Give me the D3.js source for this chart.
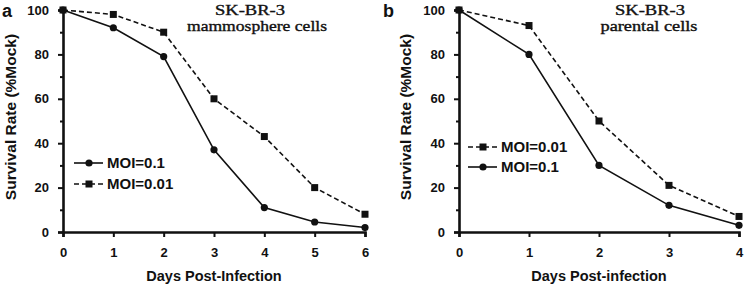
<!DOCTYPE html>
<html lang="en">
<head>
<meta charset="UTF-8">
<title>Survival rate</title>
<script src="https://cdn.jsdelivr.net/npm/d3@7/dist/d3.min.js"></script>
<style>
    body { margin: 0; background: #fff; }
    text { font-family: "Liberation Sans", Arial, sans-serif; font-weight: bold; fill: #111; }
    .ttl { font-family: "Liberation Serif", "Times New Roman", serif; font-weight: normal; stroke: #111; stroke-width: 0.35px; }
</style>
</head>
<body>
<script>
    // panel a: mammosphere cells
    const daysA = [0, 1, 2, 3, 4, 5, 6];
    const moi01A = [100, 92, 79, 37, 11, 4.5, 2];     // MOI=0.1
    const moi001A = [100, 98, 90, 60, 43, 20, 8];     // MOI=0.01

    // panel b: parental cells
    const daysB = [0, 1, 2, 3, 4];
    const moi01B = [100, 80, 30, 12, 3];
    const moi001B = [100, 93, 50, 21, 7];

    const yTicks = [0, 20, 40, 60, 80, 100];

    const width = 746, height = 288;
    const svg = d3.select('body').append('svg')
        .attr('width', width).attr('height', height);

    function panel(cfg) {
        const x = d3.scaleLinear().domain([0, cfg.days[cfg.days.length - 1]]).range([cfg.x0, cfg.x1]);
        const y = d3.scaleLinear().domain([0, 100]).range([232, 10]);
        const g = svg.append('g');

        // y axis
        g.append('g').attr('transform', `translate(${cfg.x0},0)`)
            .call(d3.axisLeft(y).tickValues(yTicks).tickSize(5).tickPadding(9));
        g.append('g').attr('transform', `translate(${cfg.x0},0)`)
            .call(d3.axisLeft(y).tickValues([10, 30, 50, 70, 90]).tickSize(3).tickFormat(''))
            .select('.domain').remove();
        // x axis
        const xAx = g.append('g').attr('transform', 'translate(0,232)')
            .call(d3.axisBottom(x).tickValues(cfg.days).tickSize(5).tickPadding(8).tickFormat(d3.format('d')));
        g.selectAll('.domain').attr('stroke', '#111').attr('stroke-width', 2.6);
        g.selectAll('.tick line').attr('stroke', '#111').attr('stroke-width', 2);
        g.selectAll('.tick text').style('font-size', '13px').style('font-weight', 'bold')
            .style('font-family', '"Liberation Sans", Arial, sans-serif').attr('fill', '#111');
        xAx.selectAll('.tick text').attr('dy', '0.95em');

        const line = d3.line().x((d, i) => x(cfg.days[i])).y(d => y(d));

        cfg.series.forEach(s => {
            g.append('path').datum(s.values)
                .attr('fill', 'none').attr('stroke', '#111').attr('stroke-width', 1.6)
                .attr('stroke-dasharray', s.dashed ? '5,3' : null)
                .attr('d', line);
            drawMarkers(g, s.values.map((v, i) => [x(cfg.days[i]), y(v)]), s.dashed);
        });

        // legend
        cfg.series.forEach((s, i) => {
            const ly = cfg.legY[i];
            g.append('line').attr('x1', cfg.legX).attr('x2', cfg.legX + 29)
                .attr('y1', ly).attr('y2', ly)
                .attr('stroke', '#111').attr('stroke-width', 1.6)
                .attr('stroke-dasharray', s.dashed ? '5,3' : null);
            drawMarkers(g, [[cfg.legX + 15, ly]], s.dashed);
            g.append('text').attr('x', cfg.legX + 33).attr('y', ly + 5)
                .style('font-size', '15px').text(s.name);
        });

        // labels
        g.append('text').attr('x', cfg.letterX).attr('y', 17).style('font-size', '18px').text(cfg.letter);
        g.append('text').attr('transform', `translate(${cfg.yTitleX},117) rotate(-90)`)
            .attr('text-anchor', 'middle').style('font-size', '15.5px')
            .text('Survival Rate (%Mock)');
        g.append('text').attr('x', (cfg.x0 + cfg.x1) / 2).attr('y', 281)
            .attr('text-anchor', 'middle').style('font-size', '14.5px')
            .text(cfg.xTitle);
        const t = g.append('text').attr('class', 'ttl').attr('text-anchor', 'middle').style('font-size', '14px');
        t.append('tspan').attr('x', cfg.titleX[0]).attr('y', 15)
            .attr('textLength', 70).attr('lengthAdjust', 'spacingAndGlyphs').text('SK-BR-3');
        t.append('tspan').attr('x', cfg.titleX[1]).attr('y', 31)
            .attr('textLength', cfg.subLen).attr('lengthAdjust', 'spacingAndGlyphs').text(cfg.sub);
    }

    function drawMarkers(g, pts, square) {
        if (square) {
            g.selectAll(null).data(pts).enter().append('rect')
                .attr('x', d => d[0] - 3.5).attr('y', d => d[1] - 3.5)
                .attr('width', 7).attr('height', 7).attr('fill', '#111');
        } else {
            g.selectAll(null).data(pts).enter().append('circle')
                .attr('cx', d => d[0]).attr('cy', d => d[1]).attr('r', 3.6).attr('fill', '#111');
        }
    }

    panel({
        days: daysA, x0: 63, x1: 365, letter: 'a', letterX: 2, yTitleX: 16,
        xTitle: 'Days Post-Infection', titleX: [250, 257], sub: 'mammosphere cells', subLen: 140,
        legX: 74, legY: [163, 184],
        series: [
            { name: 'MOI=0.1', values: moi01A, dashed: false },
            { name: 'MOI=0.01', values: moi001A, dashed: true }
        ]
    });
    panel({
        days: daysB, x0: 459, x1: 739, letter: 'b', letterX: 383, yTitleX: 411,
        xTitle: 'Days Post-infection', titleX: [650, 649], sub: 'parental cells', subLen: 97,
        legX: 468, legY: [147, 167],
        series: [
            { name: 'MOI=0.01', values: moi001B, dashed: true },
            { name: 'MOI=0.1', values: moi01B, dashed: false }
        ]
    });
</script>
</body>
</html>
